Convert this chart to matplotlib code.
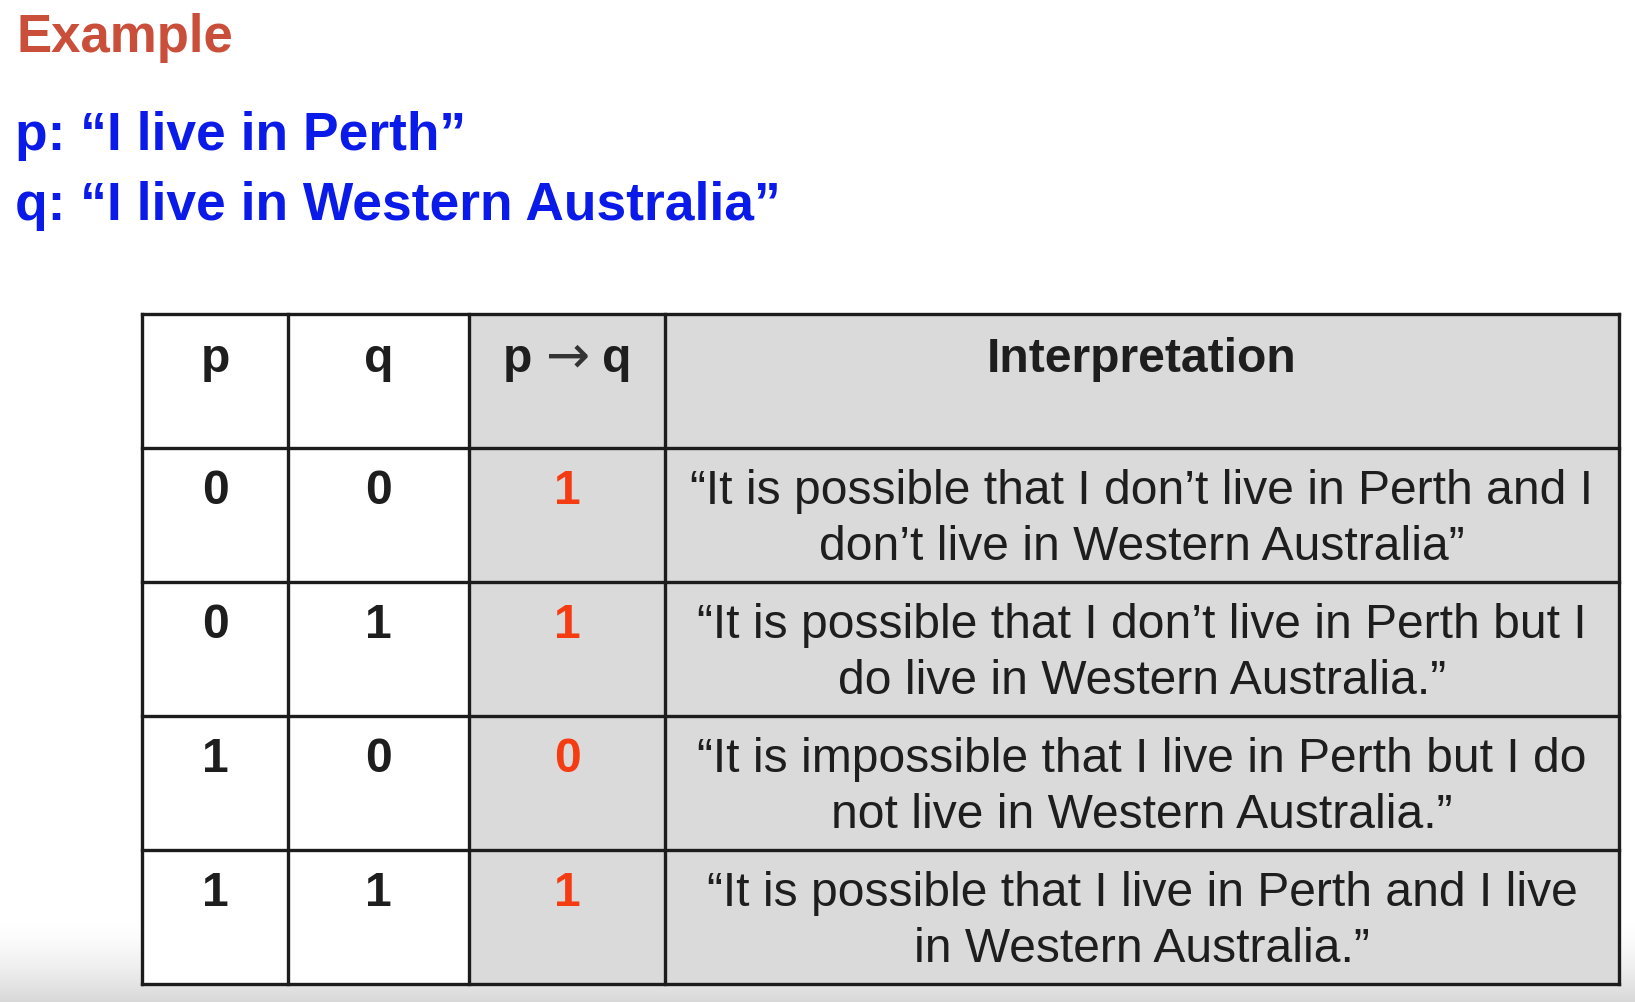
import numpy as np
import matplotlib.pyplot as plt

plt.rcParams['font.family'] = ['Liberation Sans', 'DejaVu Sans']

title = "Example"
prop_lines = ["p: “I live in Perth”", "q: “I live in Western Australia”"]

headers = ["p", "q", "p → q", "Interpretation"]
p_vals = [0, 0, 1, 1]
q_vals = [0, 1, 0, 1]
imp_vals = [1, 1, 0, 1]
interp = [
    ["“It is possible that I don’t live in Perth and I", "don’t live in Western Australia”"],
    ["“It is possible that I don’t live in Perth but I", "do live in Western Australia.”"],
    ["“It is impossible that I live in Perth but I do", "not live in Western Australia.”"],
    ["“It is possible that I live in Perth and I live", "in Western Australia.”"],
]

W, H = 1635, 1003
fig = plt.figure(figsize=(W / 100, H / 100), dpi=100)
ax = fig.add_axes([0, 0, 1, 1])
ax.set_xlim(0, W)
ax.set_ylim(H, 0)
ax.axis('off')

# faint grey shade at the bottom of the frame
grad = np.linspace(0, 1, 100) ** 1.6
grad = grad[:, None] * np.ones((1, 10))
shade = np.ones((100, 10, 4))
shade[..., :3] = 0.85
shade[..., 3] = grad
ax.imshow(shade, extent=[0, W, 1003, 920], aspect='auto', zorder=0)

ax.text(16, 52, title, fontsize=38, fontweight='bold', color='#C94F3A', va='baseline')
ax.text(15, 150, prop_lines[0], fontsize=38.4, fontweight='bold', color='#0A1AE8', va='baseline')
ax.text(15, 220, prop_lines[1], fontsize=38.4, fontweight='bold', color='#0A1AE8', va='baseline')

col_x = [142, 288, 469, 665, 1619]
row_y = [315, 449, 583, 717, 851, 985]
fills = ['white', 'white', '#DADADA', '#DADADA']
line_c = '#1C1C1C'
txt_c = '#1E1E1E'
red = '#F53B12'
fs = 34.6

for i in range(len(row_y) - 1):
    for j in range(len(col_x) - 1):
        ax.add_patch(plt.Rectangle((col_x[j], row_y[i]), col_x[j + 1] - col_x[j],
                                   row_y[i + 1] - row_y[i], facecolor=fills[j],
                                   edgecolor='none', zorder=1))
for x in col_x:
    ax.plot([x, x], [row_y[0], row_y[-1]], color=line_c, lw=2.4, zorder=3,
            solid_capstyle='projecting')
for y in row_y:
    ax.plot([col_x[0], col_x[-1]], [y, y], color=line_c, lw=2.4, zorder=3,
            solid_capstyle='projecting')

centers = [(col_x[j] + col_x[j + 1]) / 2 for j in range(4)]
hy = row_y[0] + 57
for j, h in enumerate(headers):
    if j == 2:
        a, arrow, b = h.split(' ')
        ax.text(centers[j] - 50, hy, a, fontsize=fs, fontweight='bold', color=txt_c,
                ha='center', va='baseline', zorder=4)
        ax.text(centers[j] + 1, hy, arrow, fontsize=38, family='DejaVu Sans',
                color='#333333', ha='center', va='baseline', zorder=4)
        ax.text(centers[j] + 50, hy, b, fontsize=fs, fontweight='bold', color=txt_c,
                ha='center', va='baseline', zorder=4)
    else:
        ax.text(centers[j], hy, h, fontsize=fs, fontweight='bold', color=txt_c,
                ha='center', va='baseline', zorder=4)

for i in range(4):
    top = row_y[i + 1]
    ax.text(centers[0], top + 55, str(p_vals[i]), fontsize=fs, fontweight='bold',
            color=txt_c, ha='center', va='baseline', zorder=4)
    ax.text(centers[1], top + 55, str(q_vals[i]), fontsize=fs, fontweight='bold',
            color=txt_c, ha='center', va='baseline', zorder=4)
    ax.text(centers[2], top + 55, str(imp_vals[i]), fontsize=fs, fontweight='bold',
            color=red, ha='center', va='baseline', zorder=4)
    for k, line in enumerate(interp[i]):
        ax.text(centers[3], top + 55 + 56 * k, line, fontsize=fs, color=txt_c,
                ha='center', va='baseline', zorder=4)

fig.savefig('out.png', dpi=100)
